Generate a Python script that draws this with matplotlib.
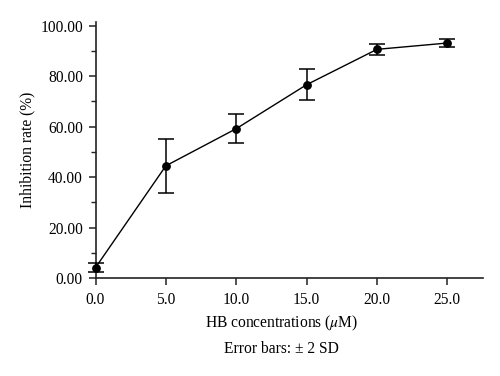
import matplotlib
matplotlib.use("Agg")
import matplotlib.pyplot as plt
from matplotlib.ticker import MultipleLocator, FormatStrFormatter

# HB concentration (uM) vs inhibition rate (%), error bars = 2 SD
conc = [0.0, 5.0, 10.0, 15.0, 20.0, 25.0]
inhibition = [4.2, 44.5, 59.2, 76.6, 90.6, 93.1]
err = [1.7, 10.7, 5.7, 6.2, 2.1, 1.5]

plt.rcParams["font.family"] = ["Liberation Serif", "DejaVu Serif"]
plt.rcParams["mathtext.fontset"] = "stix"

fs = 11.2

fig = plt.figure(figsize=(5.0, 3.76), dpi=100)
ax = fig.add_axes([0.191, 0.260, 0.774, 0.682])

ax.errorbar(conc, inhibition, yerr=err, color="black", marker="o",
            markersize=5.3, linewidth=1.0, elinewidth=1.1, capsize=6,
            capthick=1.1, clip_on=False, zorder=3)

ax.set_xlim(0, 27.5)
ax.set_ylim(0, 101.5)
ax.xaxis.set_major_locator(MultipleLocator(5))
ax.xaxis.set_major_formatter(FormatStrFormatter("%.1f"))
ax.yaxis.set_major_locator(MultipleLocator(20))
ax.yaxis.set_minor_locator(MultipleLocator(10))
ax.yaxis.set_major_formatter(FormatStrFormatter("%.2f"))

for side in ["top", "right"]:
    ax.spines[side].set_visible(False)
for side in ["left", "bottom"]:
    ax.spines[side].set_linewidth(1.2)
    ax.spines[side].set_color("#222222")

ax.tick_params(axis="both", which="major", direction="out", length=5,
               width=1.1, labelsize=fs, colors="#222222", labelcolor="black")
ax.tick_params(axis="y", which="minor", direction="out", length=3.5, width=1.0,
               colors="#222222")
ax.tick_params(axis="x", pad=5)
ax.tick_params(axis="y", pad=4)

ax.set_ylabel("Inhibition rate (%)", fontsize=fs)
ax.yaxis.set_label_coords(-0.155, 0.5)
fig.text(282 / 500, 1 - 323 / 376, r"HB concentrations ($\mu$M)",
         fontsize=fs, ha="center", va="center")
fig.text(281 / 500, 1 - 349 / 376, "Error bars: \u00b1 2 SD",
         fontsize=fs, ha="center", va="center")

fig.savefig("out.png", dpi=100)
